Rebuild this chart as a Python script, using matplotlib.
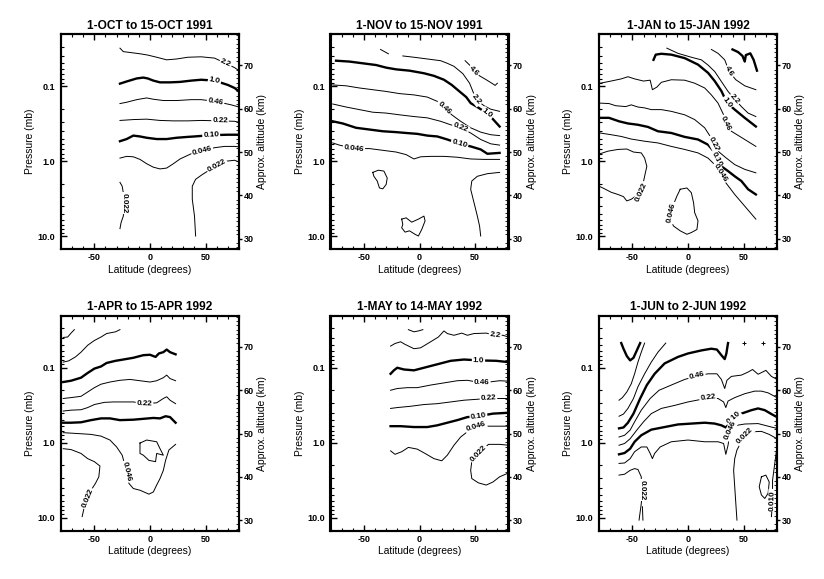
import numpy as np
import matplotlib
matplotlib.use("Agg")
import matplotlib.pyplot as plt
from matplotlib.ticker import MultipleLocator

plt.rcParams['font.family'] = ['Liberation Sans', 'DejaVu Sans']

# approximate altitude (km) of a pressure level (mb), as used on the right axis
Z_1MB = 47.9
Z_DECADE = 17.35


def alt_of_p(p):
    return Z_1MB - Z_DECADE * np.log10(p)


# ---------------- 1-OCT to 15-OCT 1991 (latitude deg, approx altitude km)
oct_2p2_lat = [-27, -24, -18, -9, -2, 6, 15, 24, 34, 46, 58, 68, 76, 80]
oct_2p2_alt = [74.0, 73.2, 73.0, 72.7, 72.4, 71.9, 71.3, 71.5, 71.9, 72.0, 71.7, 70.5, 69.5, 68.8]
oct_1p0_lat = [-27, -21, -12, -6, -2, 3, 9, 18, 27, 37, 46, 58, 70, 76, 80]
oct_1p0_alt = [65.8, 66.3, 67.0, 67.2, 67.0, 66.5, 66.1, 66.1, 66.2, 66.5, 66.7, 66.5, 65.5, 64.8, 64.0]
oct_p46_lat = [-27, -21, -12, -3, 3, 12, 24, 37, 46, 59, 73, 80]
oct_p46_alt = [61.2, 61.5, 62.1, 62.5, 62.2, 61.9, 61.9, 62.1, 62.1, 61.7, 60.9, 60.4]
oct_p22_lat = [-27, -15, -3, 9, 21, 34, 46, 63, 76, 80]
oct_p22_alt = [57.3, 57.5, 57.6, 57.3, 57.2, 57.2, 57.3, 57.2, 57.1, 56.9]
oct_p10_lat = [-27, -21, -15, -9, -3, 6, 15, 24, 34, 40, 55, 70, 80]
oct_p10_alt = [52.5, 53.0, 53.8, 53.6, 53.3, 53.0, 53.0, 53.3, 53.5, 53.6, 53.9, 54.0, 54.0]
oct_p046_lat = [-27, -21, -15, -9, -3, 3, 9, 15, 21, 27, 37, 47, 58, 67, 76, 80]
oct_p046_alt = [48.6, 49.0, 48.9, 48.3, 47.3, 46.5, 46.1, 46.3, 47.3, 48.4, 49.6, 50.2, 51.0, 51.3, 51.3, 51.2]
oct_p022a_lat = [41, 40, 38, 38, 41, 47, 60, 69, 76, 80]
oct_p022a_alt = [30.6, 35.2, 39.1, 42.1, 43.7, 44.8, 46.9, 47.9, 48.1, 47.7]
oct_p022b_lat = [-27, -25, -24, -23, -24, -26, -27]
oct_p022b_alt = [43.0, 42.1, 40.6, 38.3, 35.2, 33.7, 32.3]

# ---------------- 1-NOV to 15-NOV 1991
nov_4p6_lat = [41, 45, 49, 54, 60, 65, 68, 70]
nov_4p6_alt = [71.1, 70.1, 68.8, 67.6, 66.7, 65.9, 65.4, 65.9]
nov_2p2a_lat = [-35, -28]
nov_2p2a_alt = [73.7, 72.7]
nov_2p2b_lat = [-15, -5, 4, 13, 19, 25, 31, 39, 45, 48, 51, 58, 64, 72]
nov_2p2b_alt = [72.2, 71.9, 71.6, 71.3, 71.1, 70.5, 69.8, 68.1, 65.9, 64.0, 62.1, 60.7, 59.9, 59.4]
nov_1p0_lat = [-75, -63, -51, -39, -30, -21, -9, 4, 13, 22, 29, 35, 42, 46, 52, 61, 66, 72]
nov_1p0_alt = [71.1, 70.9, 70.5, 70.1, 69.5, 69.1, 68.8, 68.2, 67.6, 66.7, 65.5, 64.2, 62.7, 61.3, 60.4, 58.9, 57.6, 55.9]
nov_p46_lat = [-78, -66, -54, -42, -30, -18, -5, 7, 16, 22, 29, 37, 46, 55, 64, 72]
nov_p46_alt = [65.5, 65.3, 64.8, 64.4, 64.0, 63.5, 63.2, 62.7, 61.7, 60.2, 58.6, 57.1, 55.6, 54.6, 54.0, 53.8]
nov_p22_lat = [-78, -66, -54, -42, -30, -18, -5, 7, 19, 28, 37, 46, 55, 64, 72]
nov_p22_alt = [61.1, 60.4, 59.8, 59.2, 59.0, 58.6, 58.2, 57.9, 57.1, 56.3, 55.6, 54.4, 52.9, 51.9, 51.6]
nov_p10_lat = [-78, -69, -57, -45, -33, -21, -12, -2, 7, 16, 25, 36, 46, 55, 61, 72]
nov_p10_alt = [57.1, 56.6, 55.6, 55.2, 54.8, 54.6, 54.4, 54.2, 53.8, 53.6, 52.9, 51.9, 51.3, 50.6, 49.6, 49.8]
nov_p046_lat = [-78, -72, -59, -45, -33, -21, -12, -5, 1, 10, 22, 34, 46, 58, 72]
nov_p046_alt = [52.1, 51.6, 50.8, 50.8, 50.4, 50.0, 49.4, 48.4, 48.9, 49.0, 49.0, 48.8, 48.4, 48.3, 48.3]
nov_p022a_lat = [-42, -37, -32, -29, -30, -33, -36, -38, -41, -42]
nov_p022a_alt = [45.3, 45.8, 45.6, 44.0, 42.5, 41.5, 41.7, 43.3, 44.4, 45.3]
nov_p022b_lat = [-16, -12, -7, -1, 4, 5, 2, -1, -4, -9, -13, -16, -15, -16]
nov_p022b_alt = [34.5, 34.8, 33.8, 34.5, 35.2, 34.1, 32.1, 30.6, 31.0, 31.8, 31.5, 32.5, 33.3, 34.5]
nov_p022c_lat = [72, 61, 52, 47, 46, 49, 52, 54, 55]
nov_p022c_alt = [45.3, 45.0, 44.4, 43.3, 41.4, 38.3, 35.2, 32.9, 30.6]

# ---------------- 1-JAN to 15-JAN 1992
jan_10_lat = [40, 45, 49, 51, 52, 56, 59, 62]
jan_10_alt = [73.7, 73.1, 72.2, 70.9, 72.4, 72.8, 71.3, 68.8]
jan_4p6_lat = [21, 27, 33, 37, 43, 51, 61]
jan_4p6_alt = [73.7, 72.8, 71.3, 68.6, 66.7, 65.3, 64.4]
jan_2p2_lat = [-19, -9, 3, 12, 18, 24, 30, 36, 42, 48, 54, 61]
jan_2p2_alt = [74.0, 72.8, 71.9, 71.3, 70.1, 68.6, 66.3, 64.0, 62.2, 60.5, 59.0, 58.2]
jan_1p0_lat = [-31, -29, -24, -15, -3, 9, 18, 24, 30, 35, 42, 51, 61]
jan_1p0_alt = [71.3, 72.5, 72.7, 72.5, 71.7, 70.2, 68.3, 66.4, 64.1, 61.4, 59.8, 57.9, 55.9]
jan_p46_lat = [-79, -71, -60, -54, -48, -40, -34, -32, -28, -24, -15, -3, 6, 15, 21, 27, 32, 34, 39, 51, 61]
jan_p46_alt = [65.9, 66.3, 66.9, 67.4, 66.9, 66.4, 66.6, 64.4, 65.0, 66.1, 66.7, 66.6, 65.9, 64.8, 63.2, 61.3, 58.6, 56.6, 54.8, 52.9, 51.3]
jan_p22_lat = [-79, -71, -65, -56, -51, -45, -39, -33, -24, -15, -3, 6, 15, 20, 23, 27, 34, 42, 51, 61]
jan_p22_alt = [61.3, 61.2, 60.7, 60.5, 60.9, 60.4, 60.2, 59.8, 59.8, 59.4, 58.6, 57.5, 55.6, 53.6, 51.9, 50.2, 48.7, 47.1, 46.0, 45.2]
jan_p10_lat = [-79, -71, -62, -54, -45, -36, -27, -15, -3, 9, 18, 23, 26, 30, 36, 42, 48, 54, 61]
jan_p10_alt = [57.9, 57.9, 57.1, 56.6, 56.3, 55.8, 54.8, 54.4, 53.5, 52.9, 51.7, 50.2, 48.4, 46.7, 45.6, 44.4, 43.3, 41.4, 40.2]
jan_p046a_lat = [-79, -69, -60, -51, -39, -27, -15, -3, 9, 18, 24, 29, 34, 42, 51, 61]
jan_p046a_alt = [54.4, 54.0, 53.6, 53.0, 52.5, 52.1, 51.3, 50.6, 49.8, 48.6, 47.1, 45.2, 42.9, 40.2, 37.5, 34.5]
jan_p046b_lat = [-7, -1, 3, 5, 6, 9, 8, 3, -1, -7, -13, -16, -15, -13, -10, -7]
jan_p046b_alt = [41.4, 41.7, 40.6, 38.3, 36.0, 34.1, 32.1, 31.4, 31.0, 31.8, 32.9, 34.5, 36.0, 37.9, 39.8, 41.4]
jan_p022_lat = [-79, -72, -63, -55, -49, -42, -39, -37, -39, -42, -47, -51, -55, -58, -63, -69, -75, -79]
jan_p022_alt = [49.6, 50.2, 50.6, 50.7, 50.0, 49.8, 48.6, 46.7, 44.4, 40.7, 39.8, 39.1, 38.7, 39.7, 40.2, 40.7, 41.5, 42.0]

# ---------------- 1-APR to 15-APR 1992
apr_4p6_lat = [-78, -74, -71, -68]
apr_4p6_alt = [72.2, 72.3, 73.2, 74.0]
apr_2p2_lat = [-78, -73, -67, -62, -56, -50, -44, -39, -31, -27]
apr_2p2_alt = [66.5, 66.8, 67.7, 68.8, 70.4, 71.5, 72.3, 73.1, 73.5, 74.0]
apr_1p0_lat = [-78, -71, -62, -56, -50, -44, -39, -31, -24, -15, -6, 0, 5, 8, 12, 15, 18, 23]
apr_1p0_alt = [61.9, 62.2, 62.9, 64.0, 65.0, 65.5, 66.3, 66.8, 67.1, 67.5, 68.1, 68.2, 67.7, 68.5, 68.8, 69.4, 68.8, 68.3]
apr_p46_lat = [-78, -71, -62, -56, -50, -44, -36, -27, -18, -9, 0, 6, 12, 15, 18, 23]
apr_p46_alt = [58.1, 58.3, 58.6, 59.6, 60.6, 61.4, 61.9, 62.3, 62.5, 62.2, 61.9, 62.2, 62.9, 63.5, 62.7, 62.2]
apr_p22_lat = [-78, -71, -62, -56, -50, -41, -33, -24, -15, -5, 6, 12, 15, 18, 23]
apr_p22_alt = [55.2, 55.4, 55.5, 56.0, 56.7, 57.2, 57.3, 57.3, 57.3, 56.9, 57.1, 58.1, 58.5, 57.7, 56.9]
apr_p10_lat = [-78, -71, -62, -53, -44, -36, -27, -15, -6, 3, 9, 14, 18, 23]
apr_p10_alt = [52.5, 52.5, 52.6, 53.1, 53.5, 53.5, 53.1, 53.2, 53.4, 53.6, 53.5, 54.0, 53.8, 52.5]
apr_p046a_lat = [-78, -65, -53, -44, -36, -30, -25, -21, -19, -15, -9, -1, 3, 6, 9, 12, 14, 17, 23]
apr_p046a_alt = [50.2, 50.0, 49.8, 49.4, 48.5, 46.9, 45.0, 41.2, 38.5, 37.3, 36.9, 36.0, 36.5, 38.1, 39.6, 41.5, 43.8, 46.2, 47.5]
apr_p046b_lat = [-9, -3, 6, 9, 12, 6, 5, -1, -6, -9, -9]
apr_p046b_alt = [47.8, 48.5, 48.1, 46.5, 45.0, 45.4, 43.5, 43.8, 45.0, 45.4, 47.8]
apr_p022_lat = [-78, -71, -62, -56, -50, -45, -46, -49, -53, -56, -59, -61]
apr_p022_alt = [46.5, 46.3, 45.4, 44.2, 43.5, 42.5, 40.0, 38.5, 36.9, 35.0, 33.1, 30.8]

# ---------------- 1-MAY to 14-MAY 1992
may_4p6_lat = [-10, -5, -1, 3]
may_4p6_alt = [74.0, 73.5, 73.7, 74.0]
may_2p2_lat = [-26, -22, -17, -13, -5, 1, 10, 17, 22, 25, 31, 38, 43, 49, 60, 68, 75, 80]
may_2p2_alt = [70.2, 70.8, 71.2, 70.6, 69.6, 69.8, 71.2, 72.3, 73.7, 73.1, 72.7, 73.2, 72.7, 73.1, 73.2, 72.7, 72.7, 72.3]
may_1p0_lat = [-26, -23, -20, -14, -5, 4, 16, 28, 40, 53, 69, 80]
may_1p0_alt = [63.8, 64.6, 65.2, 64.8, 64.6, 65.2, 66.0, 66.8, 67.1, 66.9, 66.8, 66.5]
may_p46_lat = [-26, -20, -11, -2, 10, 22, 34, 43, 56, 72, 80]
may_p46_alt = [60.0, 60.4, 60.6, 60.6, 61.2, 61.7, 62.2, 62.3, 61.7, 62.2, 62.1]
may_p22_lat = [-26, -20, -8, 4, 16, 28, 40, 62, 75, 80]
may_p22_alt = [55.8, 56.0, 56.3, 56.7, 56.9, 57.3, 57.7, 58.1, 58.1, 58.1]
may_p10_lat = [-26, -17, -5, 7, 16, 25, 34, 43, 53, 66, 80]
may_p10_alt = [51.7, 51.7, 51.5, 51.5, 51.9, 52.5, 53.1, 53.8, 54.0, 54.6, 54.8]
may_p046_lat = [-26, -22, -16, -10, -2, 5, 13, 20, 25, 31, 37, 43, 51, 60, 69, 80]
may_p046_alt = [46.0, 45.2, 45.8, 46.8, 46.4, 45.4, 44.2, 43.7, 45.0, 47.3, 49.2, 50.4, 51.5, 51.7, 51.7, 51.7]
may_p022_lat = [80, 72, 66, 62, 53, 47, 46, 47, 53, 60, 66, 72, 80]
may_p022_alt = [47.3, 47.5, 47.5, 47.5, 45.4, 43.5, 41.5, 39.6, 38.6, 38.1, 38.8, 40.0, 40.9]

# ---------------- 1-JUN to 2-JUN 1992
jun_10_lat = [-60, -58, -55, -52, -49, -46, -43]
jun_10_alt = [70.9, 69.6, 67.9, 66.9, 67.5, 69.2, 70.9]
jun_4p6_lat = [-62, -59, -55, -51, -48, -45, -42, -39]
jun_4p6_alt = [57.7, 58.3, 59.6, 61.5, 63.8, 66.5, 68.8, 70.9]
jun_2p2_lat = [-62, -58, -54, -49, -45, -39, -33, -27, -20]
jun_2p2_alt = [54.0, 54.5, 55.8, 58.1, 60.8, 63.8, 66.5, 68.8, 70.9]
jun_1p0_lat = [-62, -58, -54, -49, -43, -37, -30, -21, -9, 0, 12, 21, 26, 30, 33, 34.5, 35.4, 36]
jun_1p0_alt = [51.2, 51.4, 52.5, 54.6, 58.1, 61.2, 63.8, 66.2, 67.7, 68.5, 69.2, 69.6, 69.4, 68.1, 67.2, 68.5, 70.0, 70.9]
jun_p46_lat = [-62, -57, -52, -48, -42, -34, -26, -15, -3, 8, 18, 26, 30, 33, 35, 39, 48, 54, 58, 63, 67, 70, 75, 80]
jun_p46_alt = [49.2, 49.6, 50.8, 52.7, 55.4, 58.1, 60.0, 61.2, 62.5, 63.3, 63.8, 63.8, 62.5, 60.4, 62.3, 63.2, 63.5, 64.2, 64.8, 63.7, 64.2, 64.6, 63.2, 62.5]
jun_p22_lat = [-62, -57, -52, -46, -40, -33, -24, -12, 0, 18, 27, 32, 34, 36, 42, 51, 60, 66, 72, 80]
jun_p22_alt = [47.3, 47.7, 48.8, 50.8, 52.7, 54.6, 55.8, 56.5, 57.3, 58.2, 58.1, 57.3, 56.0, 57.5, 58.3, 59.2, 59.8, 59.8, 59.4, 58.3]
jun_p10_lat = [-62, -57, -52, -48, -42, -33, -21, -9, 3, 15, 24, 30, 34, 37, 41, 48, 57, 63, 69, 75, 80]
jun_p10_alt = [45.2, 45.5, 46.5, 48.1, 49.6, 50.9, 51.5, 52.1, 52.3, 52.5, 52.3, 51.9, 51.4, 52.2, 53.6, 54.6, 55.4, 55.8, 55.4, 54.5, 53.8]
jun_p046_lat = [-62, -57, -52, -48, -42, -37, -34, -32, -30, -25, -15, 0, 15, 27, 32, 34, 36, 38, 44, 51, 63, 69, 75, 80]
jun_p046_alt = [43.1, 43.2, 44.2, 45.8, 46.9, 46.9, 45.4, 44.2, 45.4, 46.9, 48.1, 48.5, 48.1, 48.1, 47.7, 45.2, 47.3, 50.8, 51.9, 52.2, 52.3, 51.9, 51.5, 51.2]
jun_p022a_lat = [-62, -57, -52, -48, -45, -42, -42, -41, -42, -44]
jun_p022a_alt = [40.4, 40.6, 41.5, 41.9, 41.7, 40.0, 38.5, 36.9, 33.8, 30.0]
jun_p022b_lat = [-41, -40.5]
jun_p022b_alt = [33.1, 30.0]
jun_p022c_lat = [44, 43, 42, 41, 42, 44, 48, 51, 57, 66, 73, 80]
jun_p022c_alt = [30.0, 33.8, 37.7, 41.5, 44.2, 46.2, 48.1, 49.5, 50.4, 50.5, 49.8, 48.8]
jun_p010a_lat = [66, 70, 73, 72, 69, 66, 64, 66]
jun_p010a_alt = [40.0, 40.4, 38.8, 36.2, 35.0, 35.8, 37.7, 40.0]
jun_p010b_lat = [80, 78, 76, 76, 75]
jun_p010b_alt = [46.9, 43.1, 39.2, 34.6, 30.8]
jun_blip_lat = [50, 67]
jun_blip_alt = [70.9, 70.9]

titles = ["1-OCT to 15-OCT 1991", "1-NOV to 15-NOV 1991", "1-JAN to 15-JAN 1992",
          "1-APR to 15-APR 1992", "1-MAY to 14-MAY 1992", "1-JUN to 2-JUN 1992"]
alt_limits = (27.6, 77.2)

# (lat, alt, thick, label text, index of the label point)
panel_lines = [
    [(oct_2p2_lat, oct_2p2_alt, False, "2.2", 11),
     (oct_1p0_lat, oct_1p0_alt, True, "1.0", 11),
     (oct_p46_lat, oct_p46_alt, False, "0.46", 9),
     (oct_p22_lat, oct_p22_alt, False, "0.22", 7),
     (oct_p10_lat, oct_p10_alt, True, "0.10", 10),
     (oct_p046_lat, oct_p046_alt, False, "0.046", 11),
     (oct_p022a_lat, oct_p022a_alt, False, "0.022", 6),
     (oct_p022b_lat, oct_p022b_alt, False, "0.022", 3)],
    [(nov_4p6_lat, nov_4p6_alt, False, "4.6", 2),
     (nov_2p2a_lat, nov_2p2a_alt, False, None, None),
     (nov_2p2b_lat, nov_2p2b_alt, False, "2.2", 10),
     (nov_1p0_lat, nov_1p0_alt, True, "1.0", 15),
     (nov_p46_lat, nov_p46_alt, False, "0.46", 9),
     (nov_p22_lat, nov_p22_alt, False, "0.22", 10),
     (nov_p10_lat, nov_p10_alt, True, "0.10", 11),
     (nov_p046_lat, nov_p046_alt, False, "0.046", 2),
     (nov_p022a_lat, nov_p022a_alt, False, None, None),
     (nov_p022b_lat, nov_p022b_alt, False, None, None),
     (nov_p022c_lat, nov_p022c_alt, False, None, None)],
    [(jan_10_lat, jan_10_alt, True, None, None),
     (jan_4p6_lat, jan_4p6_alt, False, "4.6", 3),
     (jan_2p2_lat, jan_2p2_alt, False, "2.2", 8),
     (jan_1p0_lat, jan_1p0_alt, True, "1.0", 9),
     (jan_p46_lat, jan_p46_alt, False, "0.46", 17),
     (jan_p22_lat, jan_p22_alt, False, "0.22", 14),
     (jan_p10_lat, jan_p10_alt, True, "0.10", 12),
     (jan_p046a_lat, jan_p046a_alt, False, "0.046", 11),
     (jan_p046b_lat, jan_p046b_alt, False, "0.046", 12),
     (jan_p022_lat, jan_p022_alt, False, "0.022", 9)],
    [(apr_4p6_lat, apr_4p6_alt, False, None, None),
     (apr_2p2_lat, apr_2p2_alt, False, None, None),
     (apr_1p0_lat, apr_1p0_alt, True, None, None),
     (apr_p46_lat, apr_p46_alt, False, None, None),
     (apr_p22_lat, apr_p22_alt, False, "0.22", 9),
     (apr_p10_lat, apr_p10_alt, True, None, None),
     (apr_p046a_lat, apr_p046a_alt, False, "0.046", 7),
     (apr_p046b_lat, apr_p046b_alt, False, None, None),
     (apr_p022_lat, apr_p022_alt, False, "0.022", 9)],
    [(may_4p6_lat, may_4p6_alt, False, None, None),
     (may_2p2_lat, may_2p2_alt, False, "2.2", 15),
     (may_1p0_lat, may_1p0_alt, True, "1.0", 9),
     (may_p46_lat, may_p46_alt, False, "0.46", 8),
     (may_p22_lat, may_p22_alt, False, "0.22", 7),
     (may_p10_lat, may_p10_alt, True, "0.10", 8),
     (may_p046_lat, may_p046_alt, False, "0.046", 12),
     (may_p022_lat, may_p022_alt, False, "0.022", 4)],
    [(jun_10_lat, jun_10_alt, True, None, None),
     (jun_4p6_lat, jun_4p6_alt, False, None, None),
     (jun_2p2_lat, jun_2p2_alt, False, None, None),
     (jun_1p0_lat, jun_1p0_alt, True, None, None),
     (jun_p46_lat, jun_p46_alt, False, "0.46", 9),
     (jun_p22_lat, jun_p22_alt, False, "0.22", 9),
     (jun_p10_lat, jun_p10_alt, True, "0.10", 14),
     (jun_p046_lat, jun_p046_alt, False, "0.046", 17),
     (jun_p022a_lat, jun_p022a_alt, False, "0.022", 7),
     (jun_p022b_lat, jun_p022b_alt, False, None, None),
     (jun_p022c_lat, jun_p022c_alt, False, "0.022", 7),
     (jun_p010a_lat, jun_p010a_alt, False, None, None),
     (jun_p010b_lat, jun_p010b_alt, False, "0.010", 3)],
]

W, H = 824, 579
col_left = [61, 330.5, 599]
col_width = 178
row_top = [34.3, 315.8]
row_bottom = [249, 530.5]

tick_font = dict(fontsize=6.5, fontweight='bold')


def label_angle(ax, lat, alt, i):
    j0 = max(i - 1, 0)
    j1 = min(i + 1, len(lat) - 1)
    p0 = ax.transData.transform((lat[j0], alt[j0]))
    p1 = ax.transData.transform((lat[j1], alt[j1]))
    ang = np.degrees(np.arctan2(p1[1] - p0[1], p1[0] - p0[0]))
    if ang > 90:
        ang -= 180
    if ang < -90:
        ang += 180
    return ang


fig = plt.figure(figsize=(W / 100, H / 100), dpi=100)
zlo, zhi = alt_limits

for k in range(6):
    r, c = divmod(k, 3)
    rect = [col_left[c] / W, 1 - row_bottom[r] / H, col_width / W, (row_bottom[r] - row_top[r]) / H]
    ax = fig.add_axes(rect)
    ax.set_xlim(-80, 80)
    ax.set_ylim(zlo, zhi)

    for lat, alt, thick, txt, idx in panel_lines[k]:
        ax.plot(lat, alt, color='black', lw=1.7 if thick else 0.7, solid_joinstyle='round')
        if txt is not None:
            ang = label_angle(ax, lat, alt, idx)
            ax.text(lat[idx], alt[idx], txt, rotation=ang, rotation_mode='anchor',
                    ha='center', va='center', fontsize=5.8, fontweight='bold',
                    bbox=dict(boxstyle='square,pad=0.12', fc='white', ec='none'), zorder=3)
    if k == 5:
        ax.plot(jun_blip_lat, jun_blip_alt, ls='none', marker='+', ms=3, mew=0.7, color='black')

    # latitude axis
    ax.set_xticks([-50, 0, 50])
    ax.set_xticklabels(['-50', '0', '50'], **tick_font)
    ax.xaxis.set_minor_locator(MultipleLocator(10))
    ax.tick_params(axis='x', which='both', direction='in', top=True, pad=3)
    ax.tick_params(axis='x', which='major', length=4, width=1)
    ax.tick_params(axis='x', which='minor', length=2, width=0.8)

    # pressure axis (left)
    ax.set_yticks(alt_of_p(np.array([0.1, 1.0, 10.0])))
    ax.set_yticklabels(['0.1', '1.0', '10.0'], **tick_font)
    minor_p = np.array([m * 10.0 ** e for e in (-2, -1, 0, 1) for m in range(2, 10)])
    minor_z = alt_of_p(minor_p)
    ax.set_yticks(minor_z[(minor_z > zlo) & (minor_z < zhi)], minor=True)
    ax.tick_params(axis='y', which='both', direction='in', right=False, pad=4)
    ax.tick_params(axis='y', which='major', length=4, width=1)
    ax.tick_params(axis='y', which='minor', length=2, width=0.8)
    ax.set_ylabel('Pressure (mb)', fontsize=7.4, labelpad=2)
    ax.set_xlabel('Latitude (degrees)', fontsize=7.4, labelpad=2)
    ax.set_title(titles[k], fontsize=8.6, fontweight='bold', pad=4)

    # approx altitude axis (right)
    tw = ax.twinx()
    tw.set_ylim(zlo, zhi)
    tw.set_yticks([30, 40, 50, 60, 70])
    tw.set_yticklabels(['30', '40', '50', '60', '70'], **tick_font)
    tw.yaxis.set_minor_locator(MultipleLocator(1))
    tw.tick_params(axis='y', which='major', direction='out', length=2.5, width=1, pad=0.8)
    tw.tick_params(axis='y', which='minor', direction='in', length=2, width=0.6)
    tw.set_ylabel('Approx. altitude (km)', fontsize=7.4, labelpad=2.5)

    for a in (ax, tw):
        for s in a.spines.values():
            s.set_linewidth(1.5)

fig.savefig('out.png', dpi=100)
